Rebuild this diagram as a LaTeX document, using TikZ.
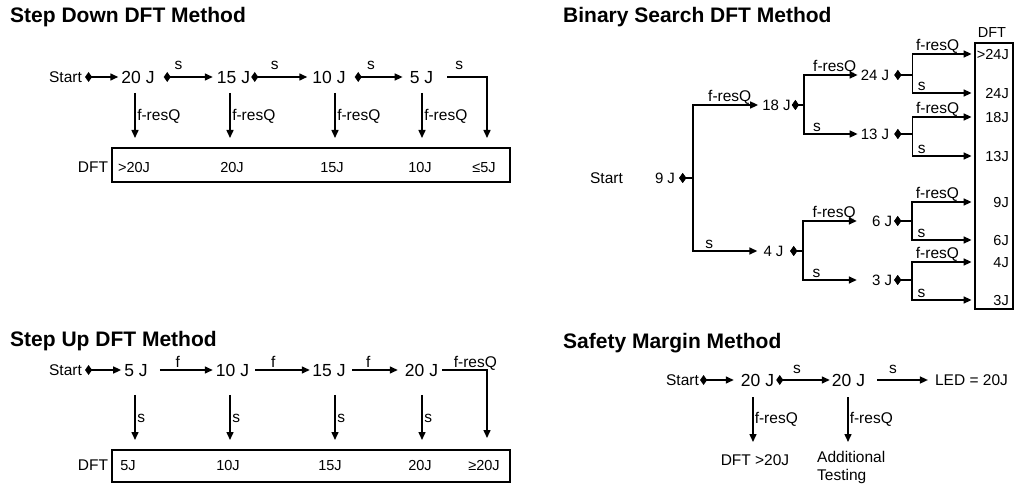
\documentclass[tikz,border=0pt]{standalone}
\usepackage{fontspec}
\setmainfont{Liberation Sans}
\usetikzlibrary{arrows.meta}
\begin{document}
\begin{tikzpicture}[x=1pt,y=-1pt,
  ln/.style={line width=1.5pt},
  arr/.style={ln,-{Triangle[length=8pt,width=7pt]}},
  darr/.style={ln,{Diamond[length=7pt,width=10pt]}-{Triangle[length=8pt,width=7pt]}},
  val/.style={font=\fontsize{17.5}{20}\selectfont,inner sep=0pt,text height=12.5pt,text depth=0pt},
  tv/.style={font=\fontsize{15}{18}\selectfont,inner sep=0pt,text height=10.7pt,text depth=0pt},
  sm/.style={font=\fontsize{15.5}{18}\selectfont,inner sep=0pt,text height=11.1pt,text depth=0pt},
  ent/.style={font=\fontsize{14.5}{17}\selectfont,inner sep=0pt,text height=10.4pt,text depth=0pt},
  ttl/.style={font=\bfseries\fontsize{21}{24}\selectfont,anchor=base west,inner sep=0pt},
  box/.style={draw,ln,inner sep=0pt},
  tl/.style={sm,anchor=south west,yshift=3pt},
  ts/.style={sm,anchor=south west,yshift=2pt},
  leaf/.style={ent,anchor=east,text width=34pt,align=right},
]
\fill[white] (0,0) rectangle (1015,489);
\useasboundingbox (0,0) rectangle (1015,489);

% ---------------- Step Down ----------------
\node[ttl] (sdT) at (10,23) {Step Down DFT Method};
\node[sm] (sdStart) at (65.5,77) {Start};
\node[val] (sd20) at (138,77) {20 J};
\node[val] (sd15) at (233.5,77) {15 J};
\node[val] (sd10) at (329,77) {10 J};
\node[val] (sd5) at (421.5,77) {5 J};
\node[box,minimum width=398pt,minimum height=34pt] (sdBox) at (311,165) {};
\node[sm] (sdDFT) at (93,167) {DFT};
\node[ent] (sdE1) at (134,167) {>20J};
\node[ent] (sdE2) at (232,167) {20J};
\node[ent] (sdE3) at (332,167) {15J};
\node[ent] (sdE4) at (420,167) {10J};
\node[ent] (sdE5) at (484,167) {≤5J};
\coordinate (sdA1) at (135,138);
\coordinate (sdA2) at (230,138);
\coordinate (sdA3) at (335,138);
\coordinate (sdA4) at (422,138);
\coordinate (sdA5) at (487,138);
\draw[darr] ([xshift=3pt]sdStart.east) -- ([xshift=-3pt]sd20.west);
\draw[darr] ([xshift=9pt]sd20.east) -- node[sm,pos=0.3,above=7pt]{s} ([xshift=-4pt]sd15.west);
\draw[darr] ([xshift=1pt]sd15.east) -- node[sm,pos=0.42,above=7pt]{s} ([xshift=-5pt]sd10.west);
\draw[darr] ([xshift=9pt]sd10.east) -- node[sm,pos=0.34,above=7pt]{s} ([xshift=-7pt]sd5.west);
\draw[arr] ([xshift=14pt]sd5.east) -| node[sm,pos=0.15,above=7pt]{s} (sdA5);
\draw[arr,shorten <=9.5pt] (sdA1 |- sd20.south) -- node[sm,right=1.5pt,pos=0.58]{f-resQ} (sdA1);
\draw[arr,shorten <=9.5pt] (sdA2 |- sd15.south) -- node[sm,right=1.5pt,pos=0.58]{f-resQ} (sdA2);
\draw[arr,shorten <=9.5pt] (sdA3 |- sd10.south) -- node[sm,right=1.5pt,pos=0.58]{f-resQ} (sdA3);
\draw[arr,shorten <=9.5pt] (sdA4 |- sd5.south) -- node[sm,right=1.5pt,pos=0.58]{f-resQ} (sdA4);

% ---------------- Binary Search ----------------
\node[ttl] (bsT) at (563,23) {Binary Search DFT Method};
\node[sm] (bsStart) at (606.5,178) {Start};
\node[tv] (b9) at (665,178) {9 J};
\node[tv] (b18) at (776.5,105) {18 J};
\node[tv] (b4) at (773.5,251) {4 J};
\node[tv] (b24) at (875,75) {24 J};
\node[tv] (b13) at (875,134) {13 J};
\node[tv] (b6) at (882,221) {6 J};
\node[tv] (b3) at (882,280) {3 J};
\node[ent] (bsDFT) at (992,32) {DFT};
\node[box,minimum width=38pt,minimum height=266pt] (bsBox) at (994,176) {};
\node[leaf] (L1) at (1009,54) {>24J};
\node[leaf] (L2) at (1009,93) {24J};
\node[leaf] (L3) at (1009,117) {18J};
\node[leaf] (L4) at (1009,156) {13J};
\node[leaf] (L5) at (1009,202) {9J};
\node[leaf] (L6) at (1009,240) {6J};
\node[leaf] (L7) at (1009,262) {4J};
\node[leaf] (L8) at (1009,300) {3J};
\draw[darr] ([xshift=4pt]b9.east) -- ++(14pt,0) |- node[tl,pos=0.61]{f-resQ} ([xshift=-4pt]b18.west);
\draw[darr] ([xshift=4pt]b9.east) -- ++(14pt,0) |- node[ts,pos=0.59]{s} ([xshift=-6pt]b4.west);
\draw[darr] ([xshift=1pt]b18.east) -- ++(12pt,0) |- node[tl,pos=0.58]{f-resQ} ([xshift=-3pt]b24.west);
\draw[darr] ([xshift=1pt]b18.east) -- ++(12pt,0) |- node[ts,pos=0.58]{s} ([xshift=-3pt]b13.west);
\draw[darr] ([xshift=6.5pt]b4.east) -- ++(13pt,0) |- node[tl,pos=0.58]{f-resQ} ([xshift=-15pt]b6.west);
\draw[darr] ([xshift=6.5pt]b4.east) -- ++(13pt,0) |- node[ts,pos=0.58]{s} ([xshift=-15pt]b3.west);
\draw[darr] ([xshift=5pt]b24.east) -- ++(18pt,0) |- node[tl,pos=0.525]{f-resQ} ([xshift=-3pt]L1.west);
\draw[darr] ([xshift=5pt]b24.east) -- ++(18pt,0) |- node[ts,pos=0.54]{s} ([xshift=-3pt]L2.west);
\draw[darr] ([xshift=5pt]b13.east) -- ++(18pt,0) |- node[tl,pos=0.525]{f-resQ} ([xshift=-3pt]L3.west);
\draw[darr] ([xshift=5pt]b13.east) -- ++(18pt,0) |- node[ts,pos=0.54]{s} ([xshift=-3pt]L4.west);
\draw[darr] ([xshift=2pt]b6.east) -- ++(18pt,0) |- node[tl,pos=0.525]{f-resQ} ([xshift=-3pt]L5.west);
\draw[darr] ([xshift=2pt]b6.east) -- ++(18pt,0) |- node[ts,pos=0.54]{s} ([xshift=-3pt]L6.west);
\draw[darr] ([xshift=2pt]b3.east) -- ++(18pt,0) |- node[tl,pos=0.525]{f-resQ} ([xshift=-3pt]L7.west);
\draw[darr] ([xshift=2pt]b3.east) -- ++(18pt,0) |- node[ts,pos=0.54]{s} ([xshift=-3pt]L8.west);

% ---------------- Step Up ----------------
\node[ttl] (suT) at (10,346) {Step Up DFT Method};
\node[sm] (suStart) at (65.5,370) {Start};
\node[val] (su5) at (136,370) {5 J};
\node[val] (su10) at (232.5,370) {10 J};
\node[val] (su15) at (329,370) {15 J};
\node[val] (su20) at (421.5,370) {20 J};
\node[box,minimum width=398pt,minimum height=32pt] (suBox) at (311,466) {};
\node[sm] (suDFT) at (93,465) {DFT};
\node[ent] (suE1) at (128,465) {5J};
\node[ent] (suE2) at (228,465) {10J};
\node[ent] (suE3) at (330,465) {15J};
\node[ent] (suE4) at (420,465) {20J};
\node[ent] (suE5) at (484,465) {≥20J};
\coordinate (suA1) at (135,440);
\coordinate (suA2) at (230,440);
\coordinate (suA3) at (335,440);
\coordinate (suA4) at (422,440);
\coordinate (suA5) at (487,438);
\draw[darr] ([xshift=3pt]suStart.east) -- ([xshift=-3pt]su5.west);
\draw[arr] ([xshift=12pt]su5.east) -- node[sm,pos=0.34,above=1.5pt]{f} ([xshift=-3pt]su10.west);
\draw[arr] ([xshift=6pt]su10.east) -- node[sm,pos=0.33,above=1.5pt]{f} ([xshift=-2.5pt]su15.west);
\draw[arr] ([xshift=6.5pt]su15.east) -- node[sm,pos=0.35,above=1.5pt]{f} ([xshift=-7pt]su20.west);
\draw[arr] ([xshift=4pt]su20.east) -| node[sm,pos=0.37,above=1.5pt]{f-resQ} (suA5);
\draw[arr,shorten <=18.5pt] (suA1 |- su5.south) -- node[sm,right=1.5pt,pos=0.64]{s} (suA1);
\draw[arr,shorten <=18.5pt] (suA2 |- su10.south) -- node[sm,right=1.5pt,pos=0.64]{s} (suA2);
\draw[arr,shorten <=18.5pt] (suA3 |- su15.south) -- node[sm,right=1.5pt,pos=0.64]{s} (suA3);
\draw[arr,shorten <=18.5pt] (suA4 |- su20.south) -- node[sm,right=1.5pt,pos=0.64]{s} (suA4);

% ---------------- Safety Margin ----------------
\node[ttl] (smT) at (563,348) {Safety Margin Method};
\node[sm] (smStart) at (682.5,380) {Start};
\node[val] (sm20a) at (757.5,380) {20 J};
\node[val] (sm20b) at (848.5,380) {20 J};
\node[sm] (smLED) at (971.5,380) {LED = 20J};
\coordinate (smA1) at (753,442);
\coordinate (smA2) at (848,442);
\node[sm] (smDFT) at (755,460) {DFT >20J};
\node[font=\fontsize{15.5}{18}\selectfont,inner sep=0pt,anchor=north west,align=left] (smAdd) at (817,451) {Additional\\Testing};
\draw[darr] ([xshift=1pt]smStart.east) -- ([xshift=-7pt]sm20a.west);
\draw[darr] ([xshift=2pt]sm20a.east) -- node[sm,pos=0.39,above=6pt]{s} ([xshift=-2pt]sm20b.west);
\draw[arr] ([xshift=12pt]sm20b.east) -- node[sm,pos=0.31,above=6pt]{s} ([xshift=-7pt]smLED.west);
\draw[arr,shorten <=10.7pt] (smA1 |- sm20a.south) -- node[sm,right=1pt,pos=0.57]{f-resQ} (smA1);
\draw[arr,shorten <=10.7pt] (smA2 |- sm20b.south) -- node[sm,right=1pt,pos=0.57]{f-resQ} (smA2);
\end{tikzpicture}
\end{document}
